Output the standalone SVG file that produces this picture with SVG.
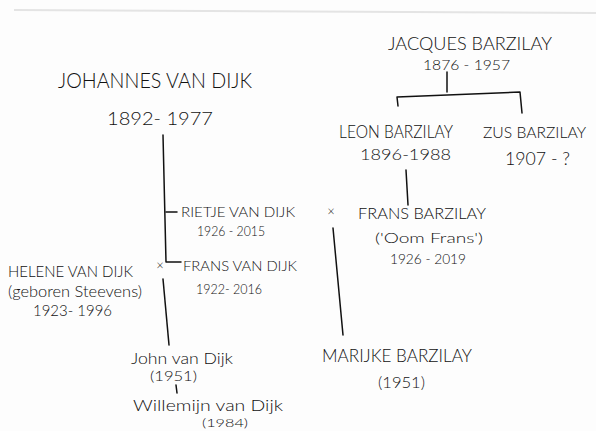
<svg xmlns="http://www.w3.org/2000/svg" width="596" height="431" viewBox="0 0 596 431">
<style>
text{font-family:"Lato","Open Sans","Liberation Sans",sans-serif;font-weight:300;fill:#111}
.c{fill:none;stroke:#111;stroke-width:1.5;stroke-linecap:round;stroke-linejoin:round}
</style>
<rect width="596" height="431" fill="#fdfdfd"/>
<line x1="14" y1="10" x2="596" y2="13" stroke="#e4e4e4" stroke-width="2"/>
<g id="connectors">
<path class="c" d="M447 72 L447 92"/>
<path class="c" d="M398 106 L397 97 L520 92 L522 113"/>
<path class="c" d="M406 170 L408 205"/>
<path class="c" d="M163 135 L166 262 L181 262"/>
<path class="c" d="M166 212 L177 212"/>
<path class="c" d="M163 279 L169 345"/>
<path class="c" d="M176 385 L177 393"/>
<path class="c" d="M333 228 L343 335"/>
<text x="160" y="270" font-size="13" text-anchor="middle">×</text>
<text x="331" y="216" font-size="13" text-anchor="middle">×</text>
</g>
<g id="n_johannes">
<text x="58" y="88" font-size="22" textLength="194" lengthAdjust="spacingAndGlyphs">JOHANNES VAN DIJK</text>
<text x="107" y="125" font-size="18" textLength="106" lengthAdjust="spacingAndGlyphs">1892- 1977</text>
</g>
<g id="n_jacques">
<text x="388" y="50" font-size="17" textLength="164" lengthAdjust="spacingAndGlyphs">JACQUES BARZILAY</text>
<text x="423" y="70" font-size="14" textLength="87" lengthAdjust="spacingAndGlyphs">1876 - 1957</text>
</g>
<g id="n_leon">
<text x="339" y="138" font-size="18" textLength="114" lengthAdjust="spacingAndGlyphs">LEON BARZILAY</text>
<text x="360" y="160" font-size="16" textLength="91" lengthAdjust="spacingAndGlyphs">1896-1988</text>
</g>
<g id="n_zus">
<text x="483" y="138" font-size="16" textLength="103" lengthAdjust="spacingAndGlyphs">ZUS BARZILAY</text>
<text x="505" y="165" font-size="17" textLength="65" lengthAdjust="spacingAndGlyphs">1907 - ?</text>
</g>
<g id="n_rietje">
<text x="181" y="217" font-size="14" textLength="114" lengthAdjust="spacingAndGlyphs">RIETJE VAN DIJK</text>
<text x="197" y="236" font-size="14" textLength="68" lengthAdjust="spacingAndGlyphs">1926 - 2015</text>
</g>
<g id="n_frans_vandijk">
<text x="183" y="271" font-size="14" textLength="114" lengthAdjust="spacingAndGlyphs">FRANS VAN DIJK</text>
<text x="196" y="294" font-size="14" textLength="66" lengthAdjust="spacingAndGlyphs">1922- 2016</text>
</g>
<g id="n_helene">
<text x="8" y="277" font-size="15" textLength="125" lengthAdjust="spacingAndGlyphs">HELENE VAN DIJK</text>
<text x="8" y="297" font-size="15" textLength="134" lengthAdjust="spacingAndGlyphs">(geboren Steevens)</text>
<text x="33" y="316" font-size="16" textLength="79" lengthAdjust="spacingAndGlyphs">1923- 1996</text>
</g>
<g id="n_frans_barzilay">
<text x="358" y="219" font-size="16" textLength="128" lengthAdjust="spacingAndGlyphs">FRANS BARZILAY</text>
<text x="375" y="243" font-size="14" textLength="108" lengthAdjust="spacingAndGlyphs">('Oom Frans')</text>
<text x="390" y="264" font-size="14" textLength="76" lengthAdjust="spacingAndGlyphs">1926 - 2019</text>
</g>
<g id="n_marijke">
<text x="322" y="362" font-size="17" textLength="150" lengthAdjust="spacingAndGlyphs">MARIJKE BARZILAY</text>
<text x="378" y="388" font-size="15" textLength="47" lengthAdjust="spacingAndGlyphs">(1951)</text>
</g>
<g id="n_john">
<text x="131" y="364" font-size="15" textLength="102" lengthAdjust="spacingAndGlyphs">John van Dijk</text>
<text x="150" y="381" font-size="13" textLength="47" lengthAdjust="spacingAndGlyphs">(1951)</text>
</g>
<g id="n_willemijn">
<text x="133" y="411" font-size="16" textLength="150" lengthAdjust="spacingAndGlyphs">Willemijn van Dijk</text>
<text x="202" y="427" font-size="11" textLength="46" lengthAdjust="spacingAndGlyphs">(1984)</text>
</g>
</svg>
